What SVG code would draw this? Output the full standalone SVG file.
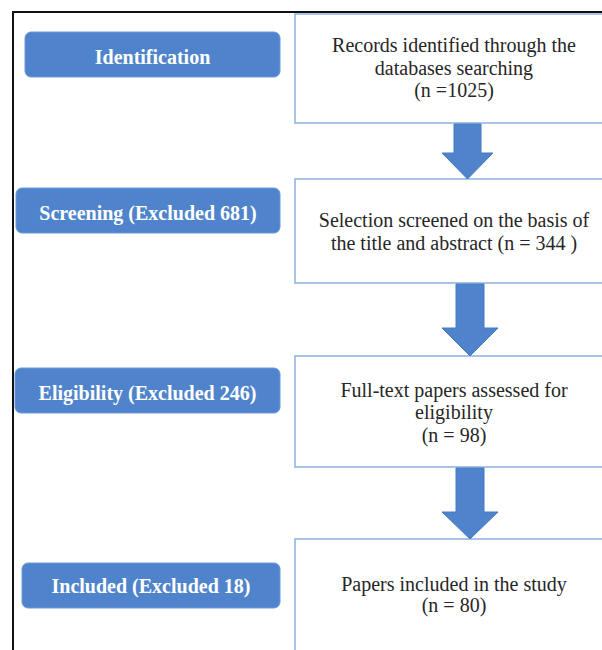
<svg xmlns="http://www.w3.org/2000/svg" width="602" height="650" viewBox="0 0 602 650">
<style>
.btn{fill:#4F84CC;stroke:#6B98D6;stroke-width:1}
.btxt{font-family:"Liberation Serif","Times New Roman",serif;font-weight:bold;font-size:20px;fill:#FFFFFF;text-anchor:middle}
.box{fill:#FFFFFF;stroke:#8DB1E2;stroke-width:1.5}
.ttxt{font-family:"Liberation Serif","Times New Roman",serif;font-size:20px;fill:#262626;text-anchor:middle}
.arr{fill:#4F84CC;stroke:#4679C2;stroke-width:1}
</style>
<rect width="602" height="650" fill="#FFFFFF"/>
<g id="frame">
<line x1="13" y1="12" x2="602" y2="12" stroke="#111" stroke-width="2"/>
<line x1="13" y1="11" x2="13" y2="650" stroke="#111" stroke-width="2"/>
</g>
<g id="identification">
<rect class="btn" x="25" y="32" width="255" height="45" rx="6"/>
<text class="btxt" x="152.5" y="64">Identification</text>
</g>
<g id="screening">
<rect class="btn" x="16" y="188" width="264" height="45" rx="6"/>
<text class="btxt" x="148" y="220">Screening (Excluded 681)</text>
</g>
<g id="eligibility">
<rect class="btn" x="15" y="368" width="265" height="45" rx="6"/>
<text class="btxt" x="147.5" y="400">Eligibility (Excluded 246)</text>
</g>
<g id="included">
<rect class="btn" x="22" y="563" width="258" height="45" rx="6"/>
<text class="btxt" x="151" y="593">Included (Excluded 18)</text>
</g>
<g id="records">
<rect class="box" x="295" y="14" width="320" height="109"/>
<text class="ttxt" x="454" y="52">Records identified through the</text>
<text class="ttxt" x="454" y="74.5">databases searching</text>
<text class="ttxt" x="454" y="97">(n =1025)</text>
</g>
<g id="screened">
<rect class="box" x="295" y="179" width="320" height="104"/>
<text class="ttxt" x="454" y="227">Selection screened on the basis of</text>
<text class="ttxt" x="454" y="250">the title and abstract (n = 344 )</text>
</g>
<g id="fulltext">
<rect class="box" x="295" y="356" width="320" height="111"/>
<text class="ttxt" x="454" y="397">Full-text papers assessed for</text>
<text class="ttxt" x="454" y="419">eligibility</text>
<text class="ttxt" x="454" y="441.5">(n = 98)</text>
</g>
<g id="papers">
<rect class="box" x="295" y="539" width="320" height="120"/>
<text class="ttxt" x="454" y="590.5">Papers included in the study</text>
<text class="ttxt" x="454" y="612">(n = 80)</text>
</g>
<g id="connectors">
<polygon class="arr" points="454,124 481,124 481,153 493,153 467.5,179 442,153 454,153"/>
<polygon class="arr" points="456,284 484,284 484,328 498,328 470,356 442,328 456,328"/>
<polygon class="arr" points="456,468 484,468 484,512 498,512 470,539 442,512 456,512"/>
</g>
</svg>
